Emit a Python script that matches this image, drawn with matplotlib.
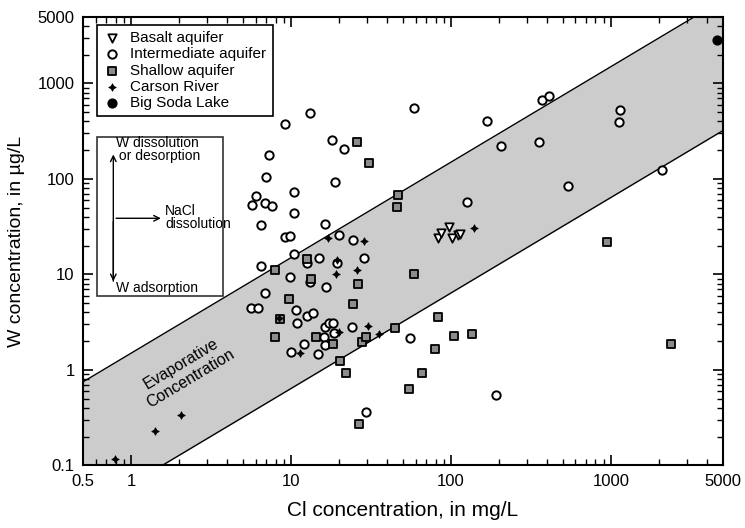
import matplotlib.pyplot as plt
from matplotlib.patches import Rectangle
import numpy as np

plt.rcParams['font.family'] = ['Liberation Sans', 'DejaVu Sans']

# Cl (mg/L) and W (ug/L)
basalt_cl = [83.5, 86.6, 97.6, 101, 110, 114]
basalt_w = [23.9, 27.0, 31.5, 23.9, 26.0, 26.7]

inter_cl = [13.1, 9.18, 18.1, 21.5, 7.24, 6.94, 18.7, 10.4, 6.04, 5.67,
            6.84, 7.56, 10.5, 6.46, 16.3, 9.12, 9.83, 20.0, 24.3, 28.7,
            10.5, 15.0, 19.4, 12.6, 6.52, 9.9, 13.1, 16.5, 6.91, 5.63,
            6.2, 10.8, 12.6, 13.7, 10.9, 16.4, 17.2, 18.2, 24.1, 16.0,
            18.5, 12.0, 16.2, 10.0, 14.7, 29.6, 59.0, 168, 206, 353,
            370, 411, 1132, 1116, 2083, 539, 125, 55.7, 191]
inter_w = [493, 374, 257, 207, 179, 106, 92, 73.1, 66.9, 53.5,
           55.6, 52.2, 44.5, 33.3, 33.7, 24.8, 25.3, 26.2, 22.7, 14.9,
           16.2, 14.7, 13.3, 13.3, 12.4, 9.3, 8.25, 7.44, 6.41, 4.41,
           4.41, 4.21, 3.67, 3.98, 3.08, 2.79, 3.08, 3.08, 2.79, 2.22,
           2.42, 1.89, 1.82, 1.53, 1.46, 0.366, 552, 400, 219, 241,
           663, 730, 530, 394, 123, 85.1, 57.9, 2.14, 0.544]

shallow_cl = [25.9, 30.7, 46.7, 45.7, 12.6, 7.9, 13.4, 26.2, 9.69, 24.3,
              8.49, 7.89, 14.4, 18.2, 27.9, 29.4, 20.3, 22.0, 26.5, 59.0,
              44.4, 83.0, 104.5, 135, 79, 65.5, 54.6, 948, 2381]
shallow_w = [244, 146, 68.1, 51.0, 14.4, 11.1, 8.98, 7.9, 5.5, 4.94,
             3.43, 2.19, 2.22, 1.86, 1.95, 2.22, 1.25, 0.94, 0.271, 10.2,
             2.77, 3.6, 2.27, 2.36, 1.65, 0.93, 0.63, 22.1, 1.89]

carson_cl = [0.79, 1.42, 2.06, 17.0, 19.4, 19.0, 26.0, 8.41, 11.35, 19.8,
             30.1, 35.6, 28.4, 140]
carson_w = [0.117, 0.227, 0.336, 23.8, 14.1, 10.2, 11.1, 3.49, 1.52, 2.49,
            2.88, 2.40, 22.3, 30.8]

soda_cl = [4637]
soda_w = [2834]

# evaporative concentration envelope (slope 1 on log-log)
band_x = [0.5, 5000]
band_hi = 1.5
band_lo = 0.064

fig = plt.figure(figsize=(7.45, 5.28), dpi=100)
ax = fig.add_axes([0.1114, 0.1184, 0.8587, 0.8500])

bx = np.array(band_x)
ax.fill_between(bx, band_lo * bx, band_hi * bx, color='#cccccc', lw=0, zorder=1)
ax.plot(bx, band_hi * bx, color='black', lw=1, zorder=2)
ax.plot(bx, band_lo * bx, color='black', lw=1, zorder=2)

ax.scatter(inter_cl, inter_w, s=36, marker='o', facecolor='white', edgecolor='black',
           lw=1.4, zorder=3, label='Intermediate aquifer')
ax.scatter(shallow_cl, shallow_w, s=28, marker='s', facecolor='#8c8c8c', edgecolor='black',
           lw=1.3, zorder=4, label='Shallow aquifer')
ax.scatter(basalt_cl, basalt_w, s=36, marker='v', facecolor='white', edgecolor='black',
           lw=1.3, zorder=4, label='Basalt aquifer')
ax.scatter(carson_cl, carson_w, s=30, marker=(4, 1, 0), facecolor='black', edgecolor='black',
           lw=0.5, zorder=5, label='Carson River')
ax.scatter(soda_cl, soda_w, s=40, marker='o', facecolor='black', edgecolor='black',
           zorder=5, label='Big Soda Lake')

ax.set_xscale('log')
ax.set_yscale('log')
ax.set_xlim(0.5, 5000)
ax.set_ylim(0.1, 5000)
ax.set_xticks([0.5, 1, 10, 100, 1000, 5000])
ax.set_xticklabels(['0.5', '1', '10', '100', '1000', '5000'])
ax.set_yticks([0.1, 1, 10, 100, 1000, 5000])
ax.set_yticklabels(['0.1', '1', '10', '100', '1000', '5000'])
ax.tick_params(which='both', direction='in', top=True, right=True, labelsize=12, pad=6)
ax.tick_params(which='major', length=7, width=1.2)
ax.tick_params(which='minor', length=4, width=1)
for sp in ax.spines.values():
    sp.set_linewidth(1.5)

ax.set_xlabel('Cl concentration, in mg/L', fontsize=15, labelpad=9)
ax.set_ylabel('W concentration, in µg/L', fontsize=14, labelpad=9)

h, l = ax.get_legend_handles_labels()
order = [2, 0, 1, 3, 4]
leg = ax.legend([h[i] for i in order], [l[i] for i in order], loc='upper left',
                bbox_to_anchor=(0.0214, 0.9815), borderaxespad=0, fancybox=False,
                framealpha=1, edgecolor='black', fontsize=11, handletextpad=0.6,
                labelspacing=0.15, borderpad=0.4, handlelength=1.2)
leg.get_frame().set_linewidth(1.2)

# process inset
ax.add_patch(Rectangle((0.0214, 0.3777), 0.1979, 0.3549, transform=ax.transAxes,
                       facecolor='white', edgecolor='#333333', lw=1.2, zorder=6))
ax.annotate('', xy=(0.0474, 0.6992), xytext=(0.0474, 0.4044), xycoords='axes fraction',
            arrowprops=dict(arrowstyle='->', lw=1, color='black'), zorder=7)
ax.annotate('', xy=(0.0474, 0.4044), xytext=(0.0474, 0.55), xycoords='axes fraction',
            arrowprops=dict(arrowstyle='->', lw=1, color='black'), zorder=7)
ax.annotate('', xy=(0.126, 0.5508), xytext=(0.0474, 0.5508), xycoords='axes fraction',
            arrowprops=dict(arrowstyle='->', lw=1, color='black'), zorder=7)
ax.text(0.1165, 0.704, 'W dissolution\n or desorption', transform=ax.transAxes, fontsize=10,
        ha='center', va='center', linespacing=0.95, zorder=7)
ax.text(0.128, 0.5526, 'NaCl\ndissolution', transform=ax.transAxes, fontsize=10,
        ha='left', va='center', linespacing=0.95, zorder=7)
ax.text(0.1152, 0.3948, 'W adsorption', transform=ax.transAxes, fontsize=10,
        ha='center', va='center', zorder=7)

ax.text(2.2, 0.97, 'Evaporative\nConcentration', fontsize=11.5, rotation=31,
        rotation_mode='anchor', ha='center', va='center', zorder=2)

fig.savefig('out.png', dpi=100)
